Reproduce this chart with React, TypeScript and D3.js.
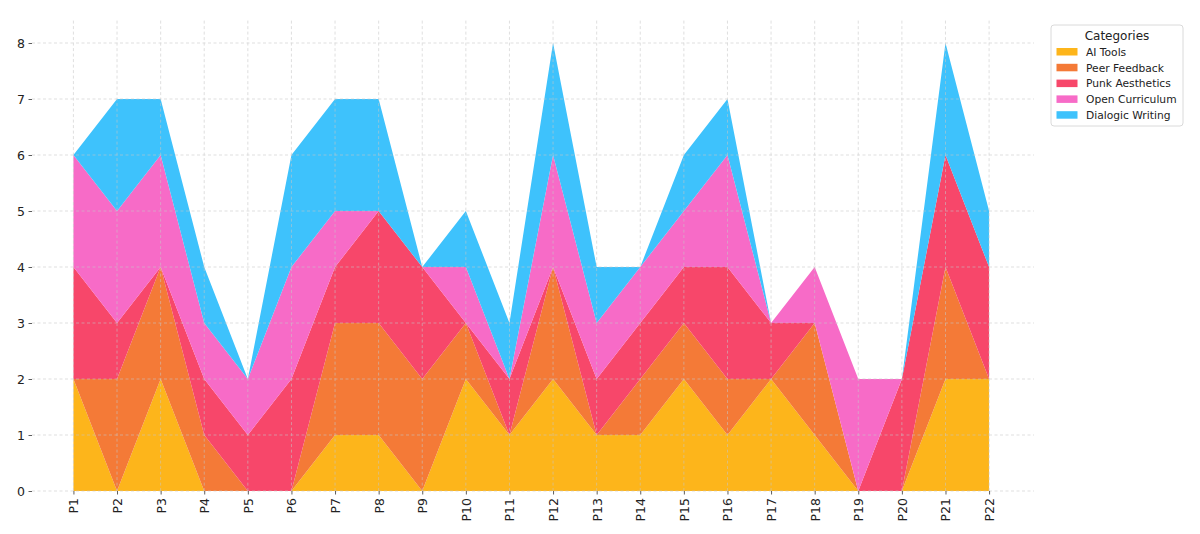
import React, { useRef, useEffect } from "react";
import * as d3 from "d3";

// ---------------------------------------------------------------------------
// DATA
// ---------------------------------------------------------------------------
const categories: string[] = [
  "P1", "P2", "P3", "P4", "P5", "P6", "P7", "P8", "P9", "P10", "P11",
  "P12", "P13", "P14", "P15", "P16", "P17", "P18", "P19", "P20", "P21", "P22",
];

const seriesNames: string[] = [
  "AI Tools",
  "Peer Feedback",
  "Punk Aesthetics",
  "Open Curriculum",
  "Dialogic Writing",
];

const aiTools: number[] = [2, 0, 2, 0, 0, 0, 1, 1, 0, 2, 1, 2, 1, 1, 2, 1, 2, 1, 0, 0, 2, 2];
const peerFeedback: number[] = [0, 2, 2, 1, 0, 0, 2, 2, 2, 1, 0, 2, 0, 1, 1, 1, 0, 2, 0, 0, 2, 0];
const punkAesthetics: number[] = [2, 1, 0, 1, 1, 2, 1, 2, 2, 0, 1, 0, 1, 1, 1, 2, 1, 0, 0, 2, 2, 2];
const openCurriculum: number[] = [2, 2, 2, 1, 1, 2, 1, 0, 0, 1, 0, 2, 1, 1, 1, 2, 0, 1, 2, 0, 0, 0];
const dialogicWriting: number[] = [0, 2, 1, 1, 0, 2, 2, 2, 0, 1, 1, 2, 1, 0, 1, 1, 0, 0, 0, 0, 2, 1];

const yTicks: number[] = [0, 1, 2, 3, 4, 5, 6, 7, 8];

const colors: string[] = ["#fdb51b", "#f47a37", "#f7476a", "#f76bc7", "#3ec2fc"];

type Row = { [key: string]: number };

export default function App() {
  const svgRef = useRef<SVGSVGElement | null>(null);

  useEffect(() => {
    const W = 1200;
    const H = 534;
    const plot = { left: 32, right: 1034, top: 20.6, bottom: 491 };

    const allSeries = [aiTools, peerFeedback, punkAesthetics, openCurriculum, dialogicWriting];
    const rows: Row[] = categories.map((_, i) => {
      const r: Row = { i };
      seriesNames.forEach((name, s) => {
        r[name] = allSeries[s][i];
      });
      return r;
    });

    const svgEl = d3.select(svgRef.current);
    svgEl.selectAll("*").remove();
    const svg = svgEl.attr("width", W).attr("height", H);

    const x = d3
      .scaleLinear()
      .domain([-0.95, categories.length - 1 + 1.03])
      .range([plot.left, plot.right]);

    const y = d3.scaleLinear().domain([0, 8.4]).range([plot.bottom, plot.top]);

    const stack = d3.stack<Row>().keys(seriesNames);
    const layers = stack(rows);

    const area = d3
      .area<d3.SeriesPoint<Row>>()
      .x((d) => x(d.data.i))
      .y0((d) => y(d[0]))
      .y1((d) => y(d[1]));

    // areas
    svg
      .append("g")
      .selectAll("path")
      .data(layers)
      .join("path")
      .attr("fill", (_, k) => colors[k])
      .attr("d", area);

    // grid (drawn over the fills, faint)
    const grid = svg.append("g").attr("stroke", "#c8c8c8").attr("stroke-width", 0.8)
      .attr("stroke-dasharray", "3,2.5").attr("opacity", 0.7);
    grid
      .selectAll("line.h")
      .data(yTicks)
      .join("line")
      .attr("class", "h")
      .attr("x1", plot.left)
      .attr("x2", plot.right)
      .attr("y1", (d) => y(d))
      .attr("y2", (d) => y(d));
    grid
      .selectAll("line.v")
      .data(categories)
      .join("line")
      .attr("class", "v")
      .attr("x1", (_, i) => x(i))
      .attr("x2", (_, i) => x(i))
      .attr("y1", plot.top)
      .attr("y2", plot.bottom);

    const font = "DejaVu Sans, sans-serif";

    // y axis
    const yAxis = svg
      .append("g")
      .attr("transform", `translate(${plot.left},0)`)
      .call(d3.axisLeft(y).tickValues(yTicks).tickSize(3.5).tickPadding(3.5));
    yAxis.select(".domain").remove();
    yAxis.selectAll("line").attr("stroke", "#333").attr("stroke-width", 0.8);
    yAxis.selectAll("text").attr("fill", "#222").style("font-family", font).style("font-size", "12.5px");

    // x axis
    const xAxis = svg
      .append("g")
      .attr("transform", `translate(0,${plot.bottom})`)
      .call(
        d3
          .axisBottom(x)
          .tickValues(d3.range(categories.length))
          .tickFormat((d) => categories[d as number])
          .tickSize(3.5)
      );
    xAxis.select(".domain").remove();
    xAxis.selectAll("line").attr("stroke", "#333").attr("stroke-width", 0.8);
    xAxis
      .selectAll("text")
      .attr("fill", "#222")
      .style("font-family", font)
      .style("font-size", "12.5px")
      .attr("transform", "rotate(-90)")
      .attr("text-anchor", "end")
      .attr("x", -7)
      .attr("y", 0)
      .attr("dy", "0.35em");

    // legend
    const lg = svg.append("g").attr("transform", "translate(1051,25)");
    lg.append("rect")
      .attr("width", 132)
      .attr("height", 101)
      .attr("rx", 3)
      .attr("fill", "white")
      .attr("stroke", "#d0d0d0")
      .attr("stroke-width", 0.8);
    lg.append("text")
      .attr("x", 66)
      .attr("y", 14.5)
      .attr("text-anchor", "middle")
      .style("font-family", font)
      .style("font-size", "12px")
      .attr("fill", "#222")
      .text("Categories");
    const items = lg
      .selectAll("g.item")
      .data(seriesNames)
      .join("g")
      .attr("class", "item")
      .attr("transform", (_, i) => `translate(0,${27 + i * 15.8})`);
    items
      .append("rect")
      .attr("x", 5.5)
      .attr("y", -4)
      .attr("width", 21)
      .attr("height", 7.5)
      .attr("fill", (_, i) => colors[i]);
    items
      .append("text")
      .attr("x", 35)
      .attr("y", 0)
      .attr("dy", "0.35em")
      .style("font-family", font)
      .style("font-size", "10.7px")
      .attr("fill", "#222")
      .text((d) => d);
  }, []);

  return (
    <svg
      ref={svgRef}
      style={{ position: "absolute", left: 0, top: 0, background: "white" }}
    />
  );
}
